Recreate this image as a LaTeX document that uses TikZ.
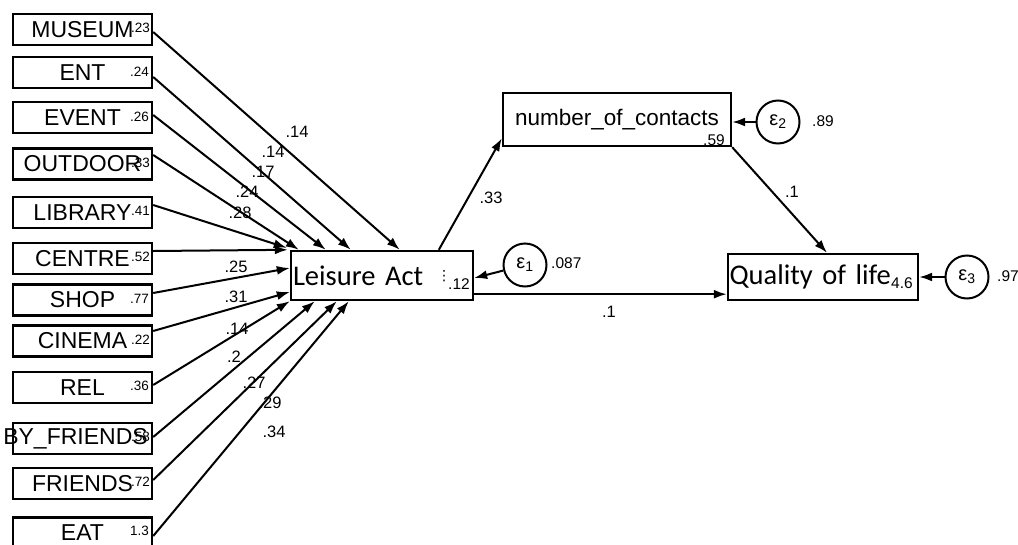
\documentclass[tikz,border=0pt]{standalone}
\usepackage{fontspec}
\setmainfont{Liberation Sans}
\newfontfamily\calib{Carlito}
\newfontfamily\dejavu{DejaVu Sans}
\usetikzlibrary{arrows.meta}
\begin{document}
\begin{tikzpicture}[x=1pt,y=-1pt,
  obs/.style={draw,line width=2.4pt,minimum width=139pt,minimum height=31pt,inner sep=0pt,font=\fontsize{23}{26}\selectfont},
  big/.style={draw,line width=2.4pt,inner sep=0pt,align=left,font=\calib\fontsize{28.5}{32}\selectfont},
  val/.style={inner sep=0pt,anchor=east,font=\fontsize{13.5}{15}\selectfont},
  coef/.style={inner sep=0pt,font=\fontsize{16.5}{18}\selectfont},
  small/.style={inner sep=0pt,font=\fontsize{15.5}{17}\selectfont},
  arr/.style={line width=2pt,-{Latex[length=13pt,width=9pt]}},
  err/.style={draw,circle,line width=2pt,minimum size=43pt,inner sep=0pt,font=\fontsize{20}{22}\selectfont}
]
\useasboundingbox (0,0) rectangle (1018,544);
% observed boxes
\node[obs] (museum) at (82.5,29.5) {MUSEUM};
\node[obs] (ent) at (82.5,72.5) {ENT};
\node[obs] (event) at (82.5,117.5) {EVENT};
\node[obs] (outdoor) at (82.5,164) {OUTDOOR};
\node[obs] (library) at (82.5,212.5) {LIBRARY};
\node[obs] (centre) at (82.5,258.5) {CENTRE};
\node[obs] (shop) at (82.5,300) {SHOP};
\node[obs] (cinema) at (82.5,341) {CINEMA};
\node[obs] (rel) at (82.5,387.5) {REL};
\node[obs] (byfr) at (82.5,438.5) {\hspace*{-14pt}BY\_FRIENDS};
\node[obs] (friends) at (82.5,483.5) {FRIENDS};
\node[obs] (eat) at (82.5,533) {EAT};
% values inside boxes
\node[val] (vmuseum) at ([xshift=-3pt,yshift=1.5pt]museum.east) {.23};
\node[val] (vent) at ([xshift=-4pt,yshift=1pt]ent.east) {.24};
\node[val] (vevent) at ([xshift=-4pt,yshift=1pt]event.east) {.26};
\node[val] (voutdoor) at ([xshift=-3pt,yshift=1pt]outdoor.east) {.33};
\node[val] (vlibrary) at ([xshift=-3pt,yshift=1.5pt]library.east) {.41};
\node[val] (vcentre) at ([xshift=-3pt,yshift=1.5pt]centre.east) {.52};
\node[val] (vshop) at ([xshift=-4pt,yshift=1pt]shop.east) {.77};
\node[val] (vcinema) at ([xshift=-3pt,yshift=1pt]cinema.east) {.22};
\node[val] (vrel) at ([xshift=-4pt,yshift=1.5pt]rel.east) {.36};
\node[val] (vbyfr) at ([xshift=-3pt,yshift=1.5pt]byfr.east) {.58};
\node[val] (vfriends) at ([xshift=-3pt,yshift=1.5pt]friends.east) {.72};
\node[val] (veat) at ([xshift=-4pt,yshift=2pt]eat.east) {1.3};
% latent / outcome boxes
\node[big,minimum width=182pt,minimum height=49pt,text width=178pt] (la) at (382,275.5) {Leisure Act};
\node[big,minimum width=190pt,minimum height=46pt,text width=187pt] (qol) at (823,277) {Quality of life};
\node[draw,line width=2.4pt,minimum width=228pt,minimum height=53pt,inner sep=0pt,font=\fontsize{22.5}{24}\selectfont] (noc) at (617,119.5) {number\_of\_contacts};
% error circles
\node[err] (e1) at (525,265) {ε\textsubscript{1}};
\node[err] (e2) at (778,122) {ε\textsubscript{2}};
\node[err] (e3) at (967,277) {ε\textsubscript{3}};
% arrows from indicators
\draw[arr] ([yshift=-2.5pt]museum.east) -- ([xshift=110pt]la.north west);
\draw[arr] ([yshift=-4.5pt]ent.east) -- ([xshift=61pt]la.north west);
\draw[arr] ([yshift=2.5pt]event.east) -- ([xshift=36pt]la.north west);
\draw[arr] ([yshift=9pt]outdoor.east) -- ([xshift=9pt]la.north west);
\draw[arr] ([yshift=7.5pt]library.east) -- ([xshift=-3pt,yshift=2pt]la.north west);
\draw[arr] ([yshift=7.5pt]centre.east) -- ([xshift=-2pt]la.north west);
\draw[arr] ([yshift=7pt]shop.east) -- ([yshift=7.5pt]la.west);
\draw[arr] ([yshift=10pt]cinema.east) -- ([yshift=-16.5pt]la.west);
\draw[arr] ([yshift=2.5pt]rel.east) -- (la.south west);
\draw[arr] ([yshift=1.5pt]byfr.east) -- ([xshift=25pt]la.south west);
\draw[arr] ([yshift=3.5pt]friends.east) -- ([xshift=47pt]la.south west);
\draw[arr] ([yshift=-3pt]eat.east) -- ([xshift=59pt]la.south west);
% coefficient labels
\node[coef] (c1) at (297,132) {.14};
\node[coef] (c2) at (273,152) {.14};
\node[coef] (c3) at (263,172) {.17};
\node[coef] (c4) at (247,192) {.24};
\node[coef] (c5) at (240,213) {.28};
\node[coef] (c6) at (236,267) {.25};
\node[coef] (c7) at (236,297) {.31};
\node[coef] (c8) at (237,329) {.14};
\node[coef] (c9) at (234,357) {.2};
\node[coef] (c10) at (254,383) {.27};
\node[coef] (c11) at (270,403) {.29};
\node[coef] (c12) at (274,432) {.34};
% structural arrows
\draw[arr] ([xshift=149pt]la.north west) -- ([yshift=9pt]noc.south west);
\draw[arr] (noc.south east) -- ([xshift=4pt]qol.north);
\draw[arr] ([yshift=7pt]la.south east) -- ([yshift=7pt]qol.south west);
\draw[arr] (e1) -- ([yshift=-2.5pt]la.east);
\draw[arr] (e2) -- ([yshift=-2.5pt]noc.east);
\draw[arr] (e3) -- (qol.east);
\node[coef] (l33) at (491,198) {.33};
\node[coef] (l1a) at (792,192) {.1};
\node[coef] (l1b) at (609,312) {.1};
\node[small,anchor=west] (v087) at (551,263) {.087};
\node[small,anchor=west] (v89) at (812,121) {.89};
\node[small,anchor=west] (v97) at (997,276) {.97};
\node[small] (v59) at (714,140) {.59};
\node[small] (v46) at (902,283) {4.6};
\node[small] (v12) at (459,284) {.12};
\node[inner sep=0pt,font=\dejavu\fontsize{14}{16}\selectfont] (dots) at (444,276) {⋮};
\end{tikzpicture}
\end{document}
